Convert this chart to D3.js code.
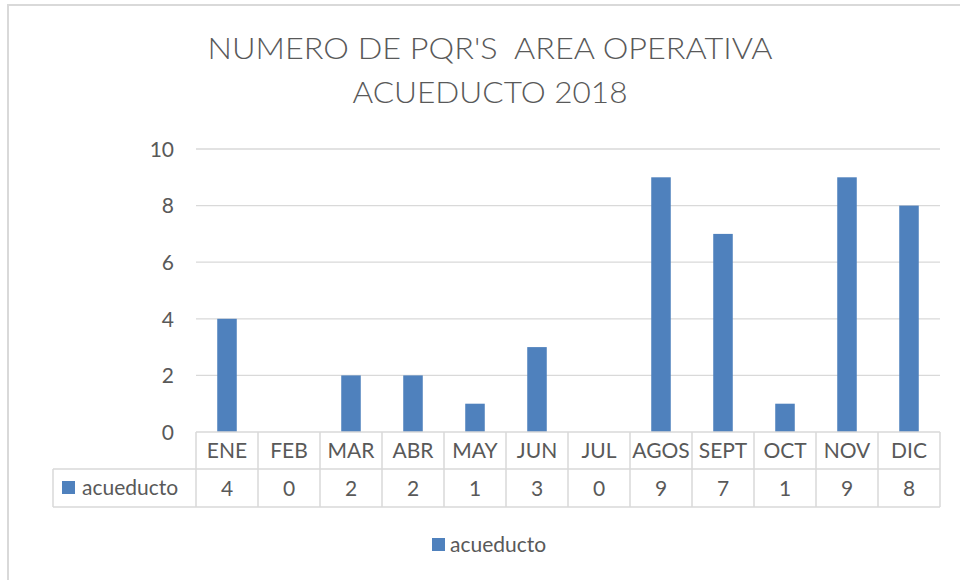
<!DOCTYPE html>
<html><head><meta charset="utf-8">
<script src="https://cdn.jsdelivr.net/npm/d3@7"></script>
<style>html,body{margin:0;padding:0;background:#fff;}svg{display:block;} .pre{white-space:pre;}</style>
</head><body>
<script>
const months = ["ENE","FEB","MAR","ABR","MAY","JUN","JUL","AGOS","SEPT","OCT","NOV","DIC"];
const values = [4,0,2,2,1,3,0,9,7,1,9,8];
const yTicks = [0,2,4,6,8,10];
const seriesName = "acueducto";
const titleLines = ["NUMERO DE PQR'S  AREA OPERATIVA","ACUEDUCTO 2018"];

const W = 960, H = 580;
const font = "Lato, 'Open Sans', sans-serif";
const txt = "#595959", grid = "#d9d9d9", barColor = "#4f81bd";

const svg = d3.select("body").append("svg").attr("width", W).attr("height", H);
svg.append("rect").attr("width", W).attr("height", H).attr("fill", "#fff");
// outer border (partially visible)
svg.append("rect").attr("x", 8).attr("y", 5).attr("width", W + 20).attr("height", H + 20)
  .attr("fill", "none").attr("stroke", grid).attr("stroke-width", 2);

// title
const tt = svg.append("g").attr("font-family", font).attr("font-size", 29).attr("font-weight", 300)
  .attr("fill", txt).attr("text-anchor", "middle");
tt.append("text").attr("class", "pre").attr("xml:space", "preserve").attr("x", 490).attr("y", 59)
  .text(titleLines[0]).attr("textLength", 565).attr("lengthAdjust", "spacingAndGlyphs");
tt.append("text").attr("x", 490).attr("y", 103).text(titleLines[1])
  .attr("textLength", 275).attr("lengthAdjust", "spacingAndGlyphs");

const x = d3.scaleBand().domain(months).range([196, 940]).padding(0);
const y = d3.scaleLinear().domain([0, 10]).range([432, 149]);

// gridlines
svg.append("g").selectAll("line").data(yTicks.filter(t => t > 0)).join("line")
  .attr("x1", 196).attr("x2", 940).attr("y1", d => y(d)).attr("y2", d => y(d))
  .attr("stroke", grid).attr("stroke-width", 1.3);

// y axis labels
const yAxis = d3.axisLeft(y).tickValues(yTicks).tickSize(0).tickPadding(0);
const ya = svg.append("g").attr("transform", "translate(174,0)").call(yAxis);
ya.select(".domain").remove();
ya.selectAll("text").attr("font-family", font).attr("font-size", 21).attr("fill", txt).attr("dy", "0.35em");

// bars
const bw = x.bandwidth(), barW = bw * 0.315;
svg.append("g").selectAll("rect").data(values).join("rect")
  .attr("x", (d, i) => x(months[i]) + (bw - barW) / 2)
  .attr("y", d => y(d)).attr("width", barW).attr("height", d => y(0) - y(d))
  .attr("fill", barColor);

// data table
const r0 = 432, r1 = 469, r2 = 507, labelX = 53;
const tg = svg.append("g").attr("stroke", grid).attr("stroke-width", 1.5);
tg.append("line").attr("x1", 196).attr("x2", 940).attr("y1", r0).attr("y2", r0);
tg.append("line").attr("x1", labelX).attr("x2", 940).attr("y1", r1).attr("y2", r1);
tg.append("line").attr("x1", labelX).attr("x2", 940).attr("y1", r2).attr("y2", r2);
tg.append("line").attr("x1", labelX).attr("x2", labelX).attr("y1", r1).attr("y2", r2);
tg.selectAll("line.v").data(months.concat(["_end"])).join("line").attr("class", "v")
  .attr("x1", (d, i) => i < months.length ? x(d) : 940).attr("x2", (d, i) => i < months.length ? x(d) : 940)
  .attr("y1", r0).attr("y2", r2);

const tx = svg.append("g").attr("font-family", font).attr("font-size", 21).attr("fill", txt).attr("text-anchor", "middle");
tx.selectAll("text.m").data(months).join("text").attr("class", "m")
  .attr("x", d => x(d) + bw / 2).attr("y", 458).text(d => d);
tx.selectAll("text.v").data(values).join("text").attr("class", "v")
  .attr("x", (d, i) => x(months[i]) + bw / 2).attr("y", 496).text(d => d);

// table legend key
svg.append("rect").attr("x", 62).attr("y", 481).attr("width", 13).attr("height", 13).attr("fill", barColor);
svg.append("text").attr("x", 82).attr("y", 495).attr("font-family", font).attr("font-size", 21).attr("fill", txt).text(seriesName);

// bottom legend
svg.append("rect").attr("x", 432).attr("y", 538).attr("width", 13).attr("height", 13).attr("fill", barColor);
svg.append("text").attr("x", 450).attr("y", 552).attr("font-family", font).attr("font-size", 21).attr("fill", txt).text(seriesName);
</script>
</body></html>
